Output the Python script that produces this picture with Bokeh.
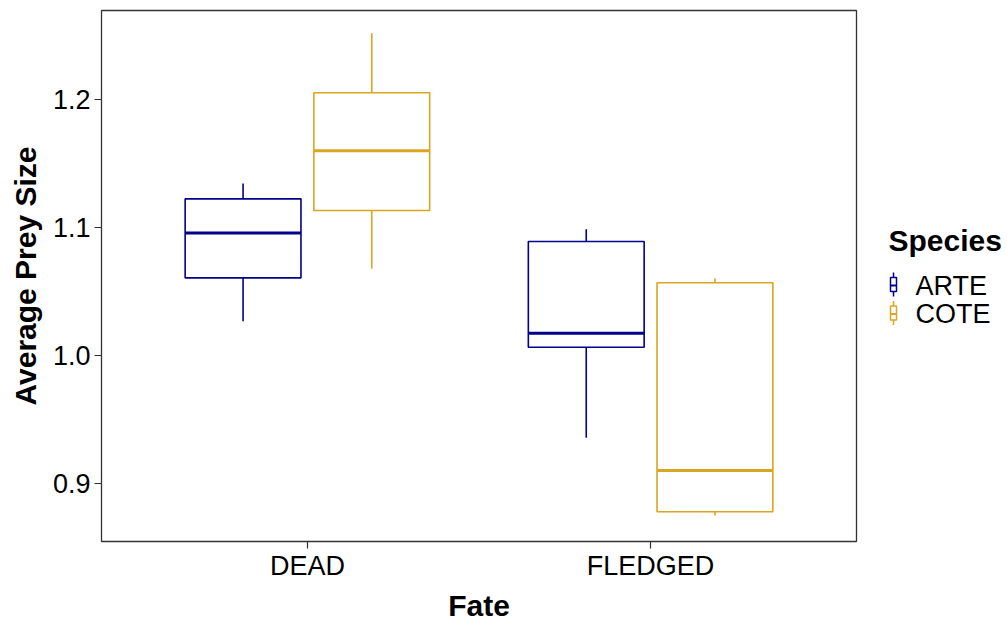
import numpy as np
from bokeh.plotting import figure
from bokeh.models import ColumnDataSource, Range1d, FixedTicker, NumeralTickFormatter
from bokeh.layouts import row
from bokeh.core.properties import value
from bokeh.embed import file_html
from bokeh.resources import INLINE

# ---------------- data ----------------
fates = ["DEAD", "FLEDGED"]
species = ["ARTE", "COTE"]
colors = ["#00008B", "#DAA520"]

arte_lower  = [1.0266, 0.9357]
arte_q1     = [1.0604, 1.0063]
arte_median = [1.0955, 1.0172]
arte_q3     = [1.1221, 1.0888]
arte_upper  = [1.1341, 1.0984]

cote_lower  = [1.0677, 0.8750]
cote_q1     = [1.1130, 0.8779]
cote_median = [1.1596, 0.9102]
cote_q3     = [1.2049, 1.0566]
cote_upper  = [1.2513, 1.0599]

y_ticks = [0.9, 1.0, 1.1, 1.2]

stats = {
    "ARTE": (arte_lower, arte_q1, arte_median, arte_q3, arte_upper),
    "COTE": (cote_lower, cote_q1, cote_median, cote_q3, cote_upper),
}

FONT = "Liberation Sans"
DODGE = 0.1875
BOXW = 0.3375
TOP, FH, BOT = 10, 531, 80

# ---------------- main plot ----------------
p = figure(
    x_range=Range1d(0.4, 2.6), y_range=Range1d(0.8547, 1.2691),
    frame_width=755, frame_height=FH,
    min_border_left=101, min_border_right=14, min_border_top=TOP, min_border_bottom=BOT,
    output_backend="svg", toolbar_location=None,
    x_axis_label="Fate", y_axis_label="Average Prey Size",
    background_fill_color="white", border_fill_color="white",
)

xbase = np.arange(1, len(fates) + 1, dtype=float)
for i, sp in enumerate(species):
    lo, q1, med, q3, up = [np.array(a) for a in stats[sp]]
    xc = xbase + (i - 0.5) * 2 * DODGE
    src = ColumnDataSource(dict(x=xc, x0=xc - BOXW / 2, x1=xc + BOXW / 2,
                                lo=lo, q1=q1, med=med, q3=q3, up=up))
    col = colors[i]
    p.segment(x0="x", y0="q3", x1="x", y1="up", source=src, line_color=col, line_width=1.6)
    p.segment(x0="x", y0="q1", x1="x", y1="lo", source=src, line_color=col, line_width=1.6)
    p.quad(left="x0", right="x1", bottom="q1", top="q3", source=src,
           fill_color="white", line_color=col, line_width=1.6)
    p.segment(x0="x0", y0="med", x1="x1", y1="med", source=src, line_color=col, line_width=3)

p.xgrid.visible = False
p.ygrid.visible = False
p.outline_line_color = "#333333"
p.outline_line_width = 1.3

p.xaxis.ticker = FixedTicker(ticks=list(xbase))
p.xaxis.major_label_overrides = {float(x): f for x, f in zip(xbase, fates)}
p.xaxis.major_label_overrides.update({int(x): f for x, f in zip(xbase, fates)})
p.yaxis.ticker = FixedTicker(ticks=y_ticks)
p.yaxis.formatter = NumeralTickFormatter(format="0.0")

for ax in (p.xaxis, p.yaxis):
    ax.axis_line_color = None
    ax.major_tick_line_color = "#333333"
    ax.major_tick_line_width = 1.2
    ax.major_tick_out = 7
    ax.major_tick_in = 0
    ax.minor_tick_line_color = None
    ax.major_label_text_font = FONT
    ax.major_label_text_font_size = "27px"
    ax.major_label_text_color = "black"
    ax.axis_label_text_font = FONT
    ax.axis_label_text_font_size = "30px"
    ax.axis_label_text_font_style = "bold"
    ax.axis_label_text_color = "black"

p.xaxis.major_label_standoff = 2
p.xaxis.axis_label_standoff = 5
p.yaxis.major_label_standoff = 4
p.yaxis.axis_label_standoff = 8

# ---------------- legend panel (coordinates = page pixels) ----------------
lp = figure(width=137, frame_height=FH, x_range=Range1d(0, 137), y_range=Range1d(TOP + FH, TOP),
            min_border_left=0, min_border_right=0, min_border_top=TOP, min_border_bottom=BOT,
            x_axis_type=None, y_axis_type=None,
            output_backend="svg", toolbar_location=None,
            background_fill_color="white", border_fill_color="white")
lp.xgrid.visible = False
lp.ygrid.visible = False
lp.outline_line_color = None

lp.text(x=[18], y=[240], text=["Species"], text_font=value(FONT), text_font_size="30px",
        text_font_style="bold", text_baseline="middle", text_align="left", text_color="black")

rows_y = 284 + np.arange(len(species)) * 28.5
icon_x = 23.0
lsrc = ColumnDataSource(dict(
    xc=np.full(len(species), icon_x),
    bx0=np.full(len(species), icon_x - 3), bx1=np.full(len(species), icon_x + 3),
    w0=rows_y - 12, w1=rows_y + 12, b0=rows_y - 7, b1=rows_y + 7,
    ty=rows_y + 1, tx=np.full(len(species), 45.0),
    label=species, color=colors,
))
lp.segment(x0="xc", y0="w0", x1="xc", y1="w1", source=lsrc, line_color="color", line_width=1.5)
lp.quad(left="bx0", right="bx1", top="b0", bottom="b1", source=lsrc,
        fill_color="white", line_color="color", line_width=1.5)
lp.segment(x0="bx0", y0="ty", x1="bx1", y1="ty", source=lsrc, line_color="color", line_width=2)
lp.text(x="tx", y="ty", text="label", source=lsrc, text_font=value(FONT), text_font_size="27px",
        text_baseline="middle", text_align="left", text_color="black")

layout = row(p, lp)
open("out.html", "w").write(file_html(layout, INLINE))
